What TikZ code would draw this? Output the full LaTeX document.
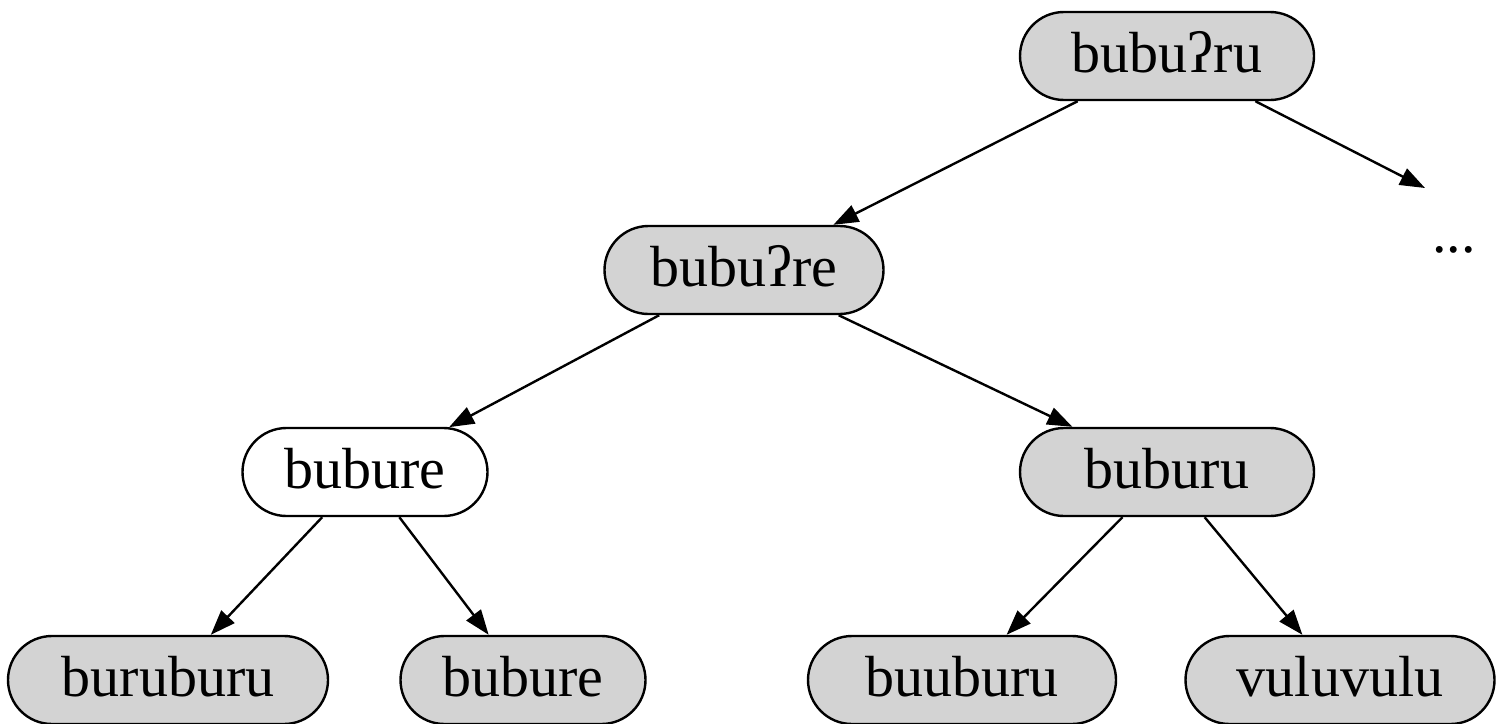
\documentclass[tikz,border=0pt]{standalone}
\usepackage{fontspec}
\setmainfont{Liberation Serif}
\usetikzlibrary{shapes.misc,arrows.meta}
\definecolor{nodegray}{HTML}{D3D3D3}
\begin{document}
\begin{tikzpicture}[x=1pt,y=-1pt,
  word/.style={rounded rectangle, draw=black, line width=2.4pt, fill=nodegray,
    minimum height=88pt, inner sep=0pt, text height=32pt, text depth=0pt,
    font=\fontsize{58}{70}\selectfont},
  plainword/.style={word, fill=white},
  link/.style={line width=2.4pt, -{Triangle[length=25pt,width=18pt]}}]
  \useasboundingbox (0,0) rectangle (1501,723);
  % tree of forms
  \node[word, minimum width=294pt] (r)   at (1167,56)  {bubuʔru};
  \node[word, minimum width=279pt] (a)   at (744,270)  {bubuʔre};
  \node[plainword, minimum width=245pt] (b) at (365,472) {bubure};
  \node[word, minimum width=294pt] (c)   at (1167,472) {buburu};
  \node[word, minimum width=320pt] (b1)  at (168,680)  {buruburu};
  \node[word, minimum width=245pt] (b2)  at (523,680)  {bubure};
  \node[word, minimum width=308pt] (c1)  at (962,680)  {buuburu};
  \node[word, minimum width=309pt] (c2)  at (1340,680) {vuluvulu};
  \node[anchor=base, inner sep=0pt, font=\fontsize{58}{70}\selectfont] (dots) at (1454,252) {...};
  \coordinate (dotsend) at (1425,188);
  % connectors
  \draw[link] (r) -- (a);
  \draw[link] (r) -- (dotsend);
  \draw[link] (a) -- (b);
  \draw[link] (a) -- (c);
  \draw[link] (b) -- (b1);
  \draw[link] (b) -- (b2);
  \draw[link] (c) -- (c1);
  \draw[link] (c) -- (c2);
\end{tikzpicture}
\end{document}
